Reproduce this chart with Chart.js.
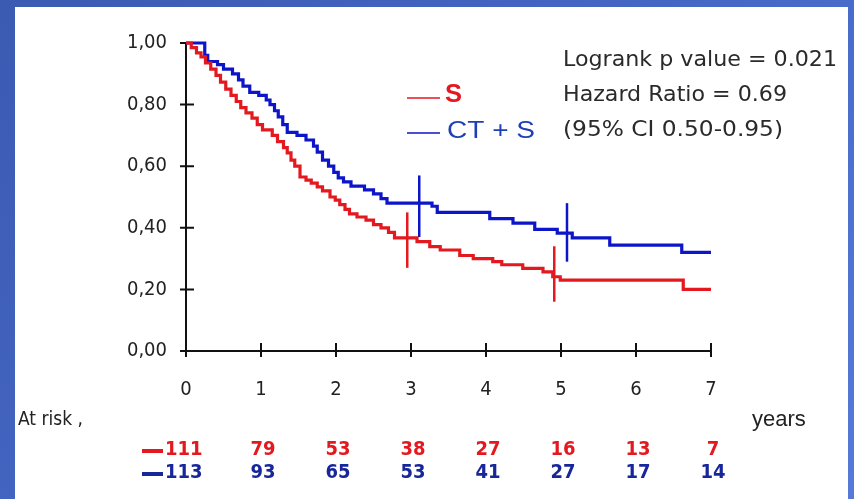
<!DOCTYPE html>
<html>
<head>
<meta charset="utf-8">
<script src="https://cdn.jsdelivr.net/npm/chart.js@4"></script>
<style>
  html, body { margin: 0; padding: 0; }
  body {
    width: 854px; height: 499px; overflow: hidden; position: relative;
    background: linear-gradient(135deg, #3b5ab2 0%, #4668c6 55%, #5779da 100%);
  }
  #panel { position: absolute; left: 15px; top: 7px; width: 833px; height: 492px; background: #fff; }
  #chart { position: absolute; left: 0; top: 0; }
</style>
</head>
<body>
<div id="panel"></div>
<canvas id="chart" width="854" height="499"></canvas>
<script>
// Kaplan-Meier steps (time in years, survival)
const sTimes = [0, 0.07, 0.14, 0.2, 0.26, 0.33, 0.4, 0.46, 0.53, 0.6, 0.67, 0.73, 0.8, 0.88, 0.95, 1.02,
  1.15, 1.22, 1.3, 1.35, 1.4, 1.45, 1.52, 1.6, 1.67, 1.75, 1.82, 1.92, 1.99, 2.05, 2.12, 2.18, 2.28,
  2.4, 2.5, 2.6, 2.7, 2.78, 3.08, 3.25, 3.39, 3.65, 3.83, 4.09, 4.21, 4.49, 4.76, 4.89, 4.99, 6.63, 7.0];
const sSurv = [1, 0.985, 0.968, 0.955, 0.935, 0.915, 0.895, 0.873, 0.85, 0.83, 0.81, 0.79, 0.773, 0.756, 0.735, 0.718,
  0.7, 0.68, 0.66, 0.643, 0.62, 0.6, 0.565, 0.555, 0.545, 0.533, 0.52, 0.5, 0.49, 0.475, 0.46, 0.445, 0.435,
  0.425, 0.41, 0.4, 0.385, 0.367, 0.355, 0.339, 0.328, 0.31, 0.3, 0.29, 0.28, 0.268, 0.257, 0.241, 0.23, 0.2, 0.2];

const ctsTimes = [0, 0.25, 0.29, 0.42, 0.5, 0.62, 0.7, 0.76, 0.85, 0.97, 1.07, 1.12, 1.18, 1.23, 1.29, 1.35,
  1.48, 1.6, 1.7, 1.75, 1.82, 1.9, 1.97, 2.03, 2.1, 2.2, 2.38, 2.5, 2.6, 2.68, 3.28, 3.35, 4.05, 4.36,
  4.65, 4.95, 5.15, 5.65, 6.61, 7.0];
const ctsSurv = [1, 0.96, 0.94, 0.93, 0.915, 0.9, 0.88, 0.86, 0.84, 0.83, 0.815, 0.8, 0.78, 0.76, 0.735, 0.71,
  0.7, 0.685, 0.665, 0.646, 0.62, 0.6, 0.58, 0.562, 0.549, 0.535, 0.523, 0.51, 0.495, 0.48, 0.47, 0.45, 0.43, 0.415,
  0.395, 0.383, 0.367, 0.344, 0.32, 0.32];

// vertical bars at 3 and 5 years
const sBarT = [2.95, 4.91];
const sBarLo = [0.27, 0.16];
const sBarHi = [0.45, 0.34];
const ctsBarT = [3.11, 5.08];
const ctsBarLo = [0.37, 0.29];
const ctsBarHi = [0.57, 0.48];

// numbers at risk
const riskYears = [0, 1, 2, 3, 4, 5, 6, 7];
const riskS = [111, 79, 53, 38, 27, 16, 13, 7];
const riskCTS = [113, 93, 65, 53, 41, 27, 17, 14];

const yTicks = [0, 0.2, 0.4, 0.6, 0.8, 1.0];

const RED = '#e3191f';
const BLUE = '#0c16c8';
const NARROW = "'Liberation Sans Narrow', 'DejaVu Sans Condensed', 'Arial Narrow', sans-serif";

const zip = (xs, ys) => xs.map((x, i) => ({ x: x, y: ys[i] }));

const bars = [];
sBarT.forEach((t, i) => bars.push({ data: [{ x: t, y: sBarLo[i] }, { x: t, y: sBarHi[i] }], borderColor: RED }));
ctsBarT.forEach((t, i) => bars.push({ data: [{ x: t, y: ctsBarLo[i] }, { x: t, y: ctsBarHi[i] }], borderColor: BLUE }));

// draw text squeezed/stretched to a given width
function fitText(c, txt, x, y, w) {
  const m = c.measureText(txt).width;
  c.save();
  c.translate(x, y);
  c.scale(w / m, 1);
  c.fillText(txt, 0, 0);
  c.restore();
}

const axesPlugin = {
  id: 'axes',
  beforeDatasetsDraw(chart) {
    const c = chart.ctx, xs = chart.scales.x, ys = chart.scales.y;
    const x0 = xs.getPixelForValue(0), x7 = xs.getPixelForValue(7);
    const y0 = ys.getPixelForValue(0), y1 = ys.getPixelForValue(1);
    c.save();
    c.strokeStyle = '#111';
    c.lineWidth = 2;
    c.beginPath();
    c.moveTo(x0, y1); c.lineTo(x0, y0); c.lineTo(x7, y0);
    yTicks.forEach(v => { const y = ys.getPixelForValue(v); c.moveTo(x0 - 6, y); c.lineTo(x0 + (v === 1 ? 0 : 8), y); });
    riskYears.forEach(v => { const x = xs.getPixelForValue(v); c.moveTo(x, y0 - 8); c.lineTo(x, y0 + 6); });
    c.stroke();
    c.restore();
  },
  afterDraw(chart) {
    const c = chart.ctx, xs = chart.scales.x;
    c.save();
    c.textBaseline = 'middle';
    // stats
    c.fillStyle = '#2a2a2a';
    c.font = "21px 'DejaVu Sans Condensed', 'Liberation Sans', sans-serif";
    fitText(c, 'Logrank p value = 0.021', 563, 61, 274);
    fitText(c, 'Hazard Ratio = 0.69', 563, 96, 224);
    fitText(c, '(95% CI 0.50-0.95)', 563, 131, 220);
    // legend
    c.lineWidth = 1.5;
    c.strokeStyle = RED;
    c.beginPath(); c.moveTo(407, 98); c.lineTo(440, 98); c.stroke();
    c.fillStyle = RED;
    c.font = "bold 25px 'Liberation Sans', Arial, sans-serif";
    fitText(c, 'S', 445, 95, 17);
    c.strokeStyle = BLUE;
    c.beginPath(); c.moveTo(407, 133); c.lineTo(440, 133); c.stroke();
    c.fillStyle = '#1f3fb5';
    c.font = "24px 'Liberation Sans', Arial, sans-serif";
    fitText(c, 'CT + S', 447, 131, 88);
    // at risk
    c.fillStyle = '#222';
    c.font = '19px ' + NARROW;
    c.fillText('At risk ,', 18, 420);
    c.font = "22px 'Liberation Sans', Arial, sans-serif";
    c.fillText('years', 752, 420);
    c.font = 'bold 20px ' + NARROW;
    c.lineWidth = 4;
    [[riskS, RED, 450], [riskCTS, '#17279a', 473]].forEach(([vals, col, y]) => {
      c.fillStyle = col;
      c.strokeStyle = col;
      c.beginPath(); c.moveTo(142, y + 1); c.lineTo(163, y + 1); c.stroke();
      vals.forEach((v, i) => {
        if (i === 0) { c.textAlign = 'left'; c.fillText(String(v), 165, y); }
        else { c.textAlign = 'center'; c.fillText(String(v), xs.getPixelForValue(riskYears[i]) + 2, y); }
      });
    });
    c.restore();
  }
};

new Chart(document.getElementById('chart'), {
  type: 'line',
  data: {
    datasets: [
      { data: zip(sTimes, sSurv), borderColor: RED, stepped: 'before' },
      { data: zip(ctsTimes, ctsSurv), borderColor: BLUE, stepped: 'before' },
      ...bars.map(b => Object.assign(b, { borderWidth: 2.5 }))
    ]
  },
  options: {
    responsive: false,
    animation: false,
    layout: { padding: { left: 0, top: 43, right: 143, bottom: 0 } },
    elements: {
      point: { radius: 0 },
      line: { borderWidth: 3.2, tension: 0 }
    },
    datasets: { line: { clip: false } },
    plugins: {
      legend: { display: false },
      tooltip: { enabled: false }
    },
    scales: {
      x: {
        type: 'linear',
        min: 0, max: 7,
        grid: { display: false, drawTicks: false },
        border: { display: false },
        ticks: {
          stepSize: 1,
          padding: 27,
          color: '#222',
          font: { family: NARROW, size: 20 }
        },
        afterFit(scale) { scale.height = 148; }
      },
      y: {
        min: 0, max: 1,
        grid: { display: false, drawTicks: false },
        border: { display: false },
        ticks: {
          stepSize: 0.2,
          padding: 19,
          color: '#222',
          font: { family: NARROW, size: 20 },
          callback: v => v.toFixed(2).replace('.', ',')
        },
        afterFit(scale) { scale.width = 186; }
      }
    }
  },
  plugins: [axesPlugin]
});
</script>
</body>
</html>
